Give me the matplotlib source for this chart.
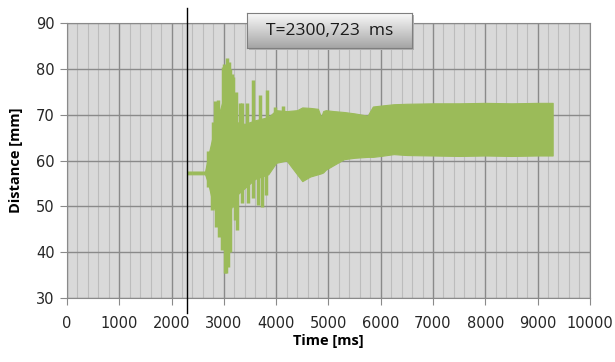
import numpy as np
import matplotlib.pyplot as plt
from matplotlib.colors import LinearSegmentedColormap
from matplotlib.ticker import MultipleLocator

# envelope of the dense oscillation
band_t = [2300, 2640, 2700, 2800, 2900, 3000, 3100, 3200, 3400, 3600, 3850, 4000, 4200,
          4400, 4500, 4650, 4800, 4860, 4900, 4950, 5100, 5300, 5500, 5750, 5850, 6000,
          6250, 6500, 7000, 7500, 8000, 8500, 9000, 9290]
band_hi = [57.6, 57.6, 61.0, 66.0, 70.0, 74.0, 72.0, 68.5, 68.0, 68.8, 69.5, 71.0, 70.8,
           71.0, 71.6, 71.5, 71.3, 69.5, 70.8, 71.0, 70.8, 70.6, 70.3, 69.8, 71.8, 72.0,
           72.3, 72.4, 72.5, 72.5, 72.6, 72.5, 72.6, 72.6]
band_lo = [57.0, 57.0, 55.0, 50.0, 47.0, 44.0, 48.0, 52.0, 54.0, 56.0, 57.0, 59.5, 60.0,
           57.0, 55.5, 56.5, 57.0, 57.2, 57.4, 58.0, 59.0, 60.3, 60.6, 60.8, 60.8, 61.0,
           61.4, 61.2, 61.1, 61.0, 61.1, 61.0, 61.1, 61.1]

# single spikes in the transient part
up_t = [2790, 2830, 2890, 2980, 3000, 3060, 3090, 3120, 3150, 3180, 3230, 3310, 3340,
        3440, 3550, 3690, 3820, 3970, 4130]
up_v = [68.4, 73.0, 73.2, 80.4, 81.0, 82.4, 81.5, 80.0, 79.0, 78.2, 75.0, 72.5, 72.5,
        72.5, 77.6, 74.3, 75.4, 71.7, 71.9]
down_t = [2700, 2770, 2850, 2900, 2960, 3020, 3050, 3080, 3110, 3180, 3210, 3250, 3340,
          3460, 3560, 3650, 3730, 3800]
down_v = [54.2, 49.2, 45.5, 43.3, 40.5, 35.5, 35.5, 36.8, 40.0, 49.9, 47.0, 44.8, 50.7,
          50.7, 51.8, 50.3, 49.9, 52.5]

cursor_t = 2300.723
green = '#9bbb59'

fig = plt.figure(figsize=(6.15, 3.62), dpi=100)
ax = fig.add_axes([0.109, 0.177, 0.850, 0.759])
ax.set_facecolor('#d9d9d9')

ax.fill_between(band_t, band_lo, band_hi, color=green, lw=0.8, ec=green, zorder=3)
ax.vlines(up_t, 62, up_v, color=green, lw=2.5, zorder=3)
ax.vlines(down_t, down_v, 62, color=green, lw=2.5, zorder=3)

ax.axvline(cursor_t, ymin=-0.055, ymax=1.055, color='black', lw=1, clip_on=False, zorder=5)

ax.set_xlim(0, 10000)
ax.set_ylim(30, 90)
ax.xaxis.set_major_locator(MultipleLocator(1000))
ax.xaxis.set_minor_locator(MultipleLocator(200))
ax.yaxis.set_major_locator(MultipleLocator(10))
ax.grid(which='major', color='#8a8a8a', lw=1, zorder=1)
ax.grid(which='minor', axis='x', color='#bcbcbc', lw=0.8, zorder=1)
ax.set_axisbelow(True)
for s in ax.spines.values():
    s.set_color('#8a8a8a')
ax.tick_params(which='major', direction='out', length=5, color='#8a8a8a',
               labelsize=10.5, labelcolor='#262626', pad=4)
ax.tick_params(which='minor', length=0)
ax.tick_params(axis='x', pad=8)

ax.set_xlabel('Time [ms]', fontsize=10.5, fontweight='bold', family='Open Sans', labelpad=2)
ax.set_ylabel('Distance [mm]', fontsize=10.5, fontweight='bold', family='Open Sans', labelpad=9)

# label box with gradient
shadow = fig.add_axes([0.4046, 0.861, 0.268, 0.0967])
shadow.set_facecolor('#b0b0b0')
shadow.set_xticks([]); shadow.set_yticks([])
for s in shadow.spines.values():
    s.set_visible(False)
box = fig.add_axes([0.4016, 0.867, 0.268, 0.0967])
grad = np.linspace(1, 0, 50).reshape(-1, 1)
box.imshow(grad, aspect='auto', extent=[0, 1, 0, 1],
           cmap=LinearSegmentedColormap.from_list('g', ['#a6a6a6', '#fbfbfb']))
box.set_xticks([]); box.set_yticks([])
for s in box.spines.values():
    s.set_color('#7f7f7f')
box.text(0.5, 0.5, 'T=2300,723  ms', ha='center', va='center', fontsize=12.5,
         family='Open Sans', color='#1a1a1a', transform=box.transAxes)

fig.savefig('out.png', dpi=100)
